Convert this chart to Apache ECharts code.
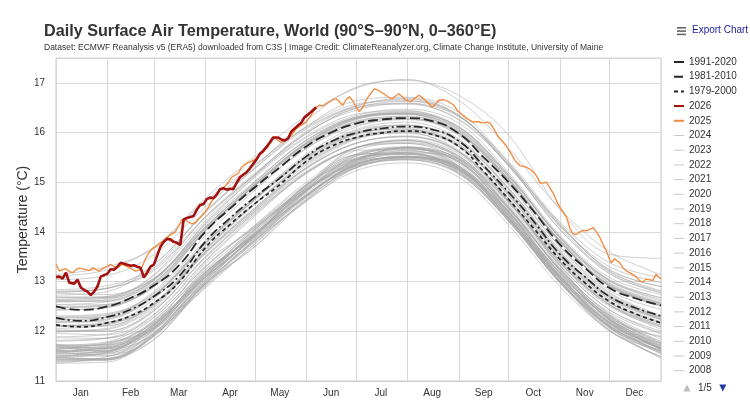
<!DOCTYPE html>
<html>
<head>
<meta charset="utf-8">
<title>Daily Surface Air Temperature, World</title>
<script src="https://cdn.jsdelivr.net/npm/echarts@6.0.0/dist/echarts.min.js"></script>
<style>
html, body { margin: 0; padding: 0; background: #fff; }
#temp_chart { width: 750px; height: 407px; }
</style>
</head>
<body>
<div id="temp_chart"></div>
<script>
// month layout on a 0..365 day axis
var monthNames = ['Jan','Feb','Mar','Apr','May','Jun','Jul','Aug','Sep','Oct','Nov','Dec'];
var monthStarts = [0,31,59,90,120,151,181,212,243,273,304,334,365];
var monthMids = [15,45,74,105,135,166,196,227,258,288,319,349];

var knotDays = [0,31,59,90,120,151,181,212,243,273,304,334,365];
var climDays = [0,15,31,45,59,74,90,105,120,135,151,166,181,196,212,227,243,258,273,288,304,319,334,349,365];

var clim1991 = [12.50,12.43,12.50,12.67,12.92,13.32,14.00,14.47,14.90,15.30,15.72,16.00,16.18,16.26,16.29,16.23,15.98,15.50,15.00,14.42,13.75,13.28,12.87,12.67,12.52];
var clim1981 = [12.27,12.21,12.29,12.44,12.70,13.10,13.80,14.28,14.70,15.08,15.52,15.82,15.99,16.08,16.12,16.06,15.83,15.33,14.80,14.22,13.55,13.10,12.70,12.48,12.31];
var clim1979 = [12.13,12.09,12.17,12.31,12.57,12.98,13.68,14.15,14.57,14.95,15.42,15.72,15.90,15.99,16.03,15.96,15.72,15.22,14.66,14.08,13.45,12.98,12.60,12.36,12.17];

// [day, value]
var y2025 = [[0,13.35],[2,13.21],[4,13.24],[6,13.26],[8,13.20],[10,13.18],[12,13.24],[14,13.27],[17,13.25],[20,13.22],[22,13.28],[24,13.25],[26,13.21],[28,13.26],[31,13.31],[33,13.35],[36,13.28],[38,13.30],[40,13.35],[43,13.30],[45,13.27],[48,13.21],[50,13.23],[52,13.30],[54,13.46],[56,13.58],[58,13.66],[61,13.72],[64,13.80],[66,13.86],[68,13.92],[70,13.96],[72,14.00],[74,14.12],[76,14.25],[78,14.24],[80,14.20],[82,14.16],[84,14.18],[86,14.26],[88,14.32],[90,14.40],[92,14.50],[94,14.62],[96,14.72],[98,14.82],[100,14.88],[102,14.92],[104,15.00],[106,15.10],[108,15.14],[110,15.18],[112,15.30],[114,15.36],[116,15.40],[118,15.42],[120,15.46],[122,15.52],[124,15.58],[126,15.64],[128,15.72],[130,15.84],[132,15.91],[134,15.84],[136,15.80],[138,15.85],[140,15.88],[142,15.95],[145,16.08],[148,16.15],[151,16.21],[154,16.35],[157,16.51],[159,16.55],[161,16.53],[163,16.58],[165,16.62],[167,16.66],[169,16.68],[171,16.62],[173,16.55],[175,16.66],[177,16.72],[179,16.64],[181,16.52],[183,16.42],[185,16.50],[187,16.65],[189,16.75],[192,16.88],[194,16.86],[196,16.82],[199,16.75],[201,16.70],[203,16.68],[205,16.74],[207,16.78],[209,16.72],[211,16.65],[214,16.62],[216,16.68],[219,16.75],[221,16.70],[223,16.64],[225,16.58],[227,16.51],[229,16.58],[231,16.65],[234,16.66],[237,16.62],[240,16.55],[242,16.45],[245,16.36],[248,16.28],[250,16.24],[252,16.21],[255,16.22],[257,16.19],[260,16.21],[262,16.19],[264,16.08],[267,15.91],[270,15.80],[272,15.71],[275,15.55],[277,15.43],[280,15.33],[282,15.32],[284,15.30],[286,15.26],[289,15.17],[291,15.06],[292,14.98],[294,14.98],[296,15.00],[298,14.88],[300,14.78],[302,14.62],[304,14.50],[306,14.40],[308,14.30],[310,14.08],[312,13.96],[314,13.95],[316,14.00],[318,14.03],[320,14.02],[322,14.05],[324,14.09],[326,14.00],[328,13.90],[330,13.75],[332,13.62],[334,13.45],[335,13.38],[337,13.46],[338,13.48],[340,13.38],[342,13.28],[344,13.22],[347,13.16],[350,13.10],[352,13.02],[354,12.99],[356,13.05],[358,13.04],[360,13.02],[362,13.15],[364,13.08],[365,13.05]];
var y2026 = [[0,13.09],[2,13.10],[4,13.06],[6,13.18],[8,12.98],[9,12.94],[11,12.96],[13,13.04],[15,12.88],[17,12.83],[19,12.80],[21,12.73],[23,12.80],[25,12.90],[27,13.10],[29,13.13],[31,13.16],[33,13.25],[35,13.24],[37,13.30],[39,13.38],[41,13.36],[43,13.34],[45,13.32],[47,13.33],[49,13.30],[51,13.28],[53,13.08],[55,13.18],[57,13.30],[59,13.34],[61,13.52],[63,13.70],[65,13.80],[67,13.86],[69,13.85],[71,13.80],[73,13.78],[75,13.74],[77,14.25],[79,14.28],[81,14.30],[83,14.32],[85,14.45],[87,14.54],[89,14.56],[91,14.66],[93,14.69],[95,14.68],[97,14.75],[99,14.86],[101,14.88],[103,14.85],[105,14.87],[107,14.86],[109,14.99],[111,15.10],[113,15.15],[115,15.20],[117,15.28],[119,15.37],[121,15.46],[123,15.57],[125,15.63],[127,15.71],[129,15.80],[131,15.90],[132,15.94],[134,15.90],[136,15.86],[138,15.84],[140,15.88],[142,16.02],[144,16.08],[146,16.14],[148,16.20],[150,16.31],[152,16.36],[154,16.42],[156,16.48],[157,16.51]];

// gray years, one row per year, values at knotDays
var gray1940s = [
  [11.69,11.59,12.22,13.19,13.94,14.95,15.46,15.70,15.32,14.47,13.13,12.32,11.68],
  [11.63,11.76,12.07,13.28,14.10,14.85,15.64,15.65,15.48,14.42,13.28,12.23,11.89],
  [11.72,11.60,12.13,13.04,14.05,14.87,15.41,15.71,15.33,14.30,13.18,12.24,11.63],
  [11.64,11.78,12.08,13.22,13.92,14.95,15.55,15.59,15.47,14.45,13.08,12.31,11.76],
  [11.80,11.86,12.16,13.37,14.09,14.93,15.69,15.78,15.45,14.61,13.32,12.27,11.90],
  [11.74,11.65,12.20,13.10,14.11,14.87,15.43,15.71,15.46,14.36,13.20,12.22,11.65],
  [11.47,11.65,12.04,13.00,13.94,14.84,15.32,15.50,15.33,14.32,12.97,12.18,11.63],
  [11.60,11.50,12.11,13.10,13.82,14.81,15.46,15.48,15.24,14.38,13.15,12.09,11.67],
  [11.54,11.60,11.95,13.11,13.98,14.70,15.40,15.60,15.18,14.24,13.05,12.17,11.54],
  [11.43,11.43,12.02,12.93,13.87,14.76,15.29,15.50,15.28,14.27,13.04,12.00,11.62]
];
var gray1950s = [
  [11.46,11.45,11.83,12.96,13.70,14.64,15.32,15.45,15.16,14.22,12.99,12.03,11.49],
  [11.46,11.59,12.07,12.99,13.94,14.74,15.45,15.64,15.32,14.39,13.11,12.21,11.66],
  [11.65,11.65,12.02,13.14,13.95,14.84,15.37,15.49,15.31,14.27,13.11,12.13,11.71],
  [11.58,11.73,12.17,13.08,13.91,14.91,15.56,15.59,15.29,14.40,13.09,12.26,11.67],
  [11.49,11.42,11.94,12.87,13.76,14.70,15.34,15.51,15.20,14.26,13.00,12.06,11.56],
  [11.36,11.49,11.83,12.96,13.84,14.61,15.29,15.47,15.23,14.22,12.99,12.07,11.45],
  [11.36,11.38,11.91,12.94,13.71,14.67,15.30,15.46,15.18,14.22,12.97,12.01,11.49],
  [11.51,11.57,12.09,13.07,14.02,14.85,15.38,15.61,15.41,14.40,13.17,12.24,11.75],
  [11.72,11.73,12.14,13.19,13.93,14.82,15.49,15.56,15.31,14.41,13.08,12.15,11.68],
  [11.61,11.68,12.11,13.18,13.98,14.83,15.40,15.56,15.26,14.27,13.12,12.19,11.71]
];
var gray1960s = [
  [11.62,11.57,11.98,13.04,13.94,14.84,15.47,15.58,15.27,14.36,13.00,12.10,11.60],
  [11.57,11.70,12.18,13.15,14.05,14.88,15.48,15.67,15.41,14.40,13.11,12.18,11.76],
  [11.67,11.67,12.05,13.16,13.94,14.79,15.43,15.63,15.37,14.33,13.17,12.23,11.65],
  [11.61,11.62,12.14,13.11,13.97,14.91,15.54,15.70,15.47,14.49,13.22,12.25,11.73],
  [11.50,11.51,11.95,12.97,13.80,14.63,15.23,15.39,15.10,14.14,12.90,12.01,11.48],
  [11.42,11.43,11.91,12.92,13.81,14.72,15.35,15.52,15.27,14.29,13.06,12.11,11.59],
  [11.59,11.66,12.06,13.08,13.88,14.72,15.36,15.53,15.29,14.28,13.08,12.15,11.66],
  [11.55,11.54,11.97,13.01,13.93,14.82,15.45,15.57,15.28,14.34,13.06,12.10,11.60],
  [11.47,11.45,11.94,13.03,13.89,14.74,15.33,15.52,15.27,14.32,13.06,12.17,11.65],
  [11.69,11.75,12.22,13.24,14.07,14.93,15.53,15.67,15.42,14.47,13.24,12.29,11.76]
];
var gray1970s = [
  [11.68,11.69,12.13,13.14,13.96,14.82,15.45,15.58,15.32,14.33,13.11,12.17,11.64],
  [11.43,11.45,11.92,12.97,13.85,14.73,15.37,15.51,15.22,14.22,13.00,12.10,11.60],
  [11.56,11.61,12.08,13.10,14.00,14.89,15.52,15.69,15.43,14.47,13.23,12.29,11.79],
  [11.82,11.87,12.29,13.29,14.12,14.96,15.56,15.68,15.40,14.42,13.18,12.24,11.72],
  [11.40,11.45,11.91,12.96,13.83,14.72,15.36,15.50,15.25,14.26,13.02,12.08,11.58],
  [11.51,11.55,12.04,13.08,13.91,14.75,15.35,15.52,15.24,14.29,13.01,12.08,11.56],
  [11.40,11.42,11.89,12.89,13.76,14.65,15.29,15.45,15.19,14.24,13.01,12.12,11.64],
  [11.72,11.79,12.27,13.31,14.14,15.00,15.64,15.78,15.50,14.51,13.27,12.33,11.80],
  [11.72,11.72,12.14,13.18,14.05,14.94,15.57,15.71,15.42,14.49,13.25,12.35,11.85],
  [11.89,11.94,12.41,13.49,14.38,15.20,15.69,15.86,15.57,14.61,13.38,12.53,12.09]
];
var gray1980s = [
  [12.06,12.13,12.52,13.60,14.49,15.29,15.79,15.91,15.60,14.64,13.41,12.53,12.04],
  [12.12,12.18,12.56,13.59,14.45,15.30,15.86,16.00,15.61,14.62,13.38,12.53,12.10],
  [11.96,11.93,12.33,13.40,14.32,15.19,15.69,15.80,15.52,14.60,13.40,12.57,12.17],
  [12.29,12.34,12.72,13.72,14.58,15.37,15.88,15.99,15.64,14.62,13.33,12.43,11.96],
  [12.00,12.00,12.44,13.47,14.39,15.17,15.70,15.84,15.49,14.51,13.24,12.38,11.95],
  [11.87,11.86,12.34,13.42,14.35,15.18,15.69,15.84,15.53,14.54,13.32,12.43,12.00],
  [12.03,12.01,12.41,13.50,14.42,15.27,15.78,15.93,15.62,14.67,13.43,12.58,12.16],
  [12.10,12.11,12.56,13.64,14.57,15.43,15.97,16.10,15.77,14.79,13.52,12.66,12.24],
  [12.27,12.28,12.72,13.76,14.64,15.46,15.96,16.07,15.73,14.74,13.47,12.58,12.12],
  [11.99,12.04,12.48,13.57,14.48,15.34,15.88,16.02,15.71,14.75,13.48,12.62,12.19]
];
var gray1990s = [
  [12.23,12.30,12.77,13.82,14.70,15.51,16.01,16.15,15.81,14.87,13.65,12.76,12.29],
  [12.23,12.28,12.72,13.77,14.66,15.49,15.98,16.07,15.73,14.77,13.54,12.69,12.26],
  [12.11,12.16,12.54,13.56,14.42,15.22,15.70,15.83,15.53,14.58,13.35,12.50,12.08],
  [12.01,12.06,12.51,13.58,14.46,15.28,15.78,15.92,15.62,14.67,13.38,12.54,12.12],
  [12.12,12.11,12.56,13.65,14.57,15.39,15.90,16.05,15.75,14.80,13.56,12.68,12.26],
  [12.31,12.36,12.75,13.78,14.66,15.51,16.06,16.21,15.87,14.89,13.61,12.70,12.24],
  [12.10,12.15,12.54,13.63,14.55,15.41,15.92,16.03,15.72,14.73,13.50,12.65,12.23],
  [12.19,12.25,12.69,13.77,14.69,15.56,16.11,16.27,15.99,15.05,13.84,13.01,12.61],
  [12.64,12.70,13.06,14.10,14.98,15.78,16.28,16.37,15.99,14.98,13.70,12.78,12.32],
  [12.19,12.19,12.65,13.73,14.65,15.51,16.04,16.15,15.84,14.85,13.58,12.73,12.27]
];
var gray2000s = [
  [12.18,12.23,12.70,13.78,14.67,15.48,15.99,16.14,15.83,14.88,13.60,12.71,12.29],
  [12.43,12.48,12.92,14.02,14.93,15.73,16.21,16.33,16.00,15.06,13.80,12.92,12.54],
  [12.62,12.67,13.05,14.07,14.93,15.74,16.23,16.32,16.02,15.01,13.82,12.91,12.52],
  [12.53,12.54,12.97,14.06,14.93,15.77,16.27,16.39,16.05,15.10,13.82,12.93,12.55],
  [12.54,12.60,12.98,14.02,14.88,15.68,16.14,16.26,15.97,15.03,13.81,12.90,12.50],
  [12.61,12.60,13.02,14.14,15.02,15.85,16.31,16.39,16.11,15.15,13.87,12.96,12.57],
  [12.47,12.52,12.89,14.02,14.95,15.78,16.26,16.37,16.07,15.12,13.89,13.04,12.67],
  [12.77,12.74,13.07,14.10,14.96,15.76,16.21,16.29,15.94,14.95,13.71,12.82,12.44],
  [12.27,12.32,12.80,13.92,14.84,15.68,16.18,16.29,15.99,15.05,13.81,12.90,12.52],
  [12.49,12.50,12.94,14.04,14.95,15.80,16.29,16.41,16.10,15.12,13.89,13.02,12.68]
];
var gray2010s = [
  [12.79,12.86,13.25,14.30,15.15,15.92,16.37,16.44,16.07,15.06,13.83,12.92,12.52],
  [12.43,12.48,12.90,14.02,14.95,15.80,16.29,16.37,16.03,15.07,13.80,12.94,12.56],
  [12.49,12.54,12.96,14.08,15.00,15.84,16.31,16.43,16.12,15.16,13.89,12.98,12.58],
  [12.59,12.64,13.02,14.08,15.00,15.84,16.30,16.39,16.11,15.13,13.91,13.02,12.64],
  [12.61,12.62,13.04,14.16,15.10,15.90,16.34,16.47,16.19,15.20,13.93,13.08,12.74],
  [12.67,12.68,13.12,14.22,15.15,16.00,16.45,16.59,16.32,15.42,14.20,13.38,13.08],
  [13.11,13.24,13.70,14.62,15.35,16.10,16.54,16.69,16.35,15.32,14.10,13.16,12.77],
  [12.79,12.87,13.34,14.40,15.28,16.07,16.53,16.67,16.33,15.35,14.13,13.24,12.90],
  [12.69,12.70,13.14,14.30,15.18,15.98,16.49,16.57,16.27,15.34,14.05,13.20,12.82],
  [12.84,12.92,13.28,14.42,15.28,16.12,16.64,16.71,16.41,15.40,14.13,13.30,12.98]
];
var gray2020s = [
  [13.04,13.12,13.54,14.50,15.35,16.12,16.57,16.64,16.35,15.36,14.17,13.20,12.80],
  [12.69,12.67,13.04,14.18,15.12,15.98,16.49,16.63,16.33,15.38,14.15,13.23,12.90],
  [12.81,12.87,13.22,14.28,15.16,16.02,16.51,16.59,16.25,15.34,14.05,13.16,12.78],
  [12.73,12.80,13.34,14.38,15.30,16.24,16.91,17.05,16.75,15.95,14.45,13.55,13.47],
  [13.14,13.30,13.67,14.68,15.52,16.34,16.89,17.07,16.65,15.68,14.47,13.60,13.14]
];
var grayDecades = [[1940, gray1940s],[1950, gray1950s],[1960, gray1960s],[1970, gray1970s],
  [1980, gray1980s],[1990, gray1990s],[2000, gray2000s],[2010, gray2010s],[2020, gray2020s]];

var daily_temp = function()
{
    var daily_temp_source = function() {
        var myChart = echarts.init(document.getElementById('temp_chart'));

        var dayCats = [];
        for (var d = 0; d <= 365; d++) dayCats.push(String(d));

        var series = [];
        var grayNames = [];
        var grayColor = 'rgba(165,165,165,0.6)';
        grayDecades.forEach(function(dec) {
            dec[1].forEach(function(vals, i) {
                var name = String(dec[0] + i);
                grayNames.push(name);
                series.push({
                    name: name, type: 'line', symbol: 'none', silent: true,
                    smooth: 0.35, color: grayColor,
                    data: vals.map(function(v, k) { return [knotDays[k], v]; }),
                    lineStyle: { color: grayColor, width: 0.9 },
                    emphasis: { disabled: true }, z: 2
                });
            });
        });

        var climLine = function(name, vals, dash, w) {
            return {
                name: name, type: 'line', symbol: 'none', smooth: true, silent: true,
                color: '#262626',
                data: vals.map(function(v, k) { return [climDays[k], v]; }),
                lineStyle: { color: '#262626', width: w, type: dash },
                emphasis: { disabled: true }, z: 3
            };
        };
        series.push(climLine('1979-2000', clim1979, [4, 3], 1.7));
        series.push(climLine('1981-2010', clim1981, [9, 3, 2, 3], 1.7));
        series.push(climLine('1991-2020', clim1991, [10, 4], 1.8));
        series.push({
            name: '2025', type: 'line', symbol: 'none', silent: true, data: y2025, color: '#f5883a',
            lineStyle: { color: '#f5883a', width: 1.3 }, emphasis: { disabled: true }, z: 4
        });
        series.push({
            name: '2026', type: 'line', symbol: 'none', silent: true, data: y2026, color: '#a3120f',
            lineStyle: { color: '#a3120f', width: 2.6 }, emphasis: { disabled: true }, z: 5
        });

        var legendOrder = ['1991-2020','1981-2010','1979-2000','2026','2025'];
        grayNames.slice().reverse().forEach(function(n) {
            legendOrder.push({ name: n, lineStyle: { width: 1 } });
        });

        var option = {
            animation: false,
            backgroundColor: '#fff',
            textStyle: { fontFamily: 'Liberation Sans, Arial, sans-serif' },
            title: {
                text: 'Daily Surface Air Temperature, World (90°S–90°N, 0–360°E)',
                subtext: 'Dataset: ECMWF Reanalysis v5 (ERA5) downloaded from C3S | Image Credit: ClimateReanalyzer.org, Climate Change Institute, University of Maine',
                left: 39, top: 19, itemGap: 3,
                textStyle: { fontSize: 16.2, fontWeight: 'bold', color: '#333' },
                subtextStyle: { fontSize: 8.5, color: '#333' }
            },
            graphic: [
                { type: 'rect', shape: { x: 677, y: 27, width: 9, height: 1.6 }, style: { fill: '#666' } },
                { type: 'rect', shape: { x: 677, y: 30.3, width: 9, height: 1.6 }, style: { fill: '#666' } },
                { type: 'rect', shape: { x: 677, y: 33.6, width: 9, height: 1.6 }, style: { fill: '#666' } },
                { type: 'text', left: 692, top: 25.5, style: { text: 'Export Chart', fontSize: 10, fill: '#1c1c9c', fontFamily: 'Liberation Sans, Arial, sans-serif' } }
            ],
            legend: {
                type: 'scroll', orient: 'vertical',
                left: 668, top: 52, height: 336, width: 36,
                data: legendOrder,
                itemWidth: 10, itemHeight: 10, itemGap: 4.7,
                itemStyle: { opacity: 0 },
                textStyle: { fontSize: 10, color: '#333' },
                pageIconSize: 7, pageIconColor: '#1f3aa3', pageIconInactiveColor: '#bbb',
                pageTextStyle: { fontSize: 10, color: '#333' },
                pageButtonItemGap: 3, pageButtonGap: 6
            },
            grid: {
                left: 56, right: 89, top: 58, bottom: 26,
                show: true, borderColor: '#ccc', borderWidth: 1
            },
            xAxis: {
                type: 'category', data: dayCats, boundaryGap: false,
                axisLine: { lineStyle: { color: '#ccc' } },
                axisTick: { show: false },
                axisLabel: {
                    fontSize: 10, color: '#333', margin: 7,
                    interval: function(i) { return monthMids.indexOf(i) >= 0; },
                    formatter: function(v) { return monthNames[monthMids.indexOf(parseInt(v, 10))]; }
                },
                splitLine: {
                    show: true,
                    interval: function(i) { return monthStarts.indexOf(i) >= 0; },
                    lineStyle: { color: '#d9d9d9', width: 1 }
                }
            },
            yAxis: {
                type: 'value', min: 11, max: 17.5, interval: 1,
                name: 'Temperature (°C)', nameLocation: 'middle', nameGap: 26,
                nameMoveOverlap: false,
                nameTextStyle: { fontSize: 14, color: '#333' },
                axisLine: { show: false }, axisTick: { show: false },
                axisLabel: {
                    fontSize: 10, color: '#333', margin: 11,
                    formatter: function(v) { return v % 1 === 0 ? String(v) : ''; }
                },
                splitLine: { lineStyle: { color: '#d9d9d9', width: 1 } }
            },
            series: series
        };

        myChart.setOption(option);
    }

    return {
        //main function to initiate the module
        init: function ()
        {
            daily_temp_source();
        }
    }
}();

document.addEventListener('DOMContentLoaded', function()
{
    daily_temp.init();
});
</script>
</body>
</html>
